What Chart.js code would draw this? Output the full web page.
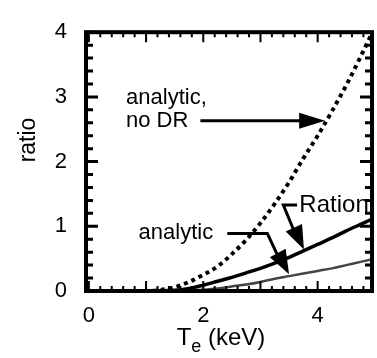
<!DOCTYPE html>
<html>
<head>
<meta charset="utf-8">
<script src="https://cdn.jsdelivr.net/npm/chart.js@4"></script>
<style>
  html, body { margin: 0; padding: 0; background: #fff; }
  #wrap { width: 377px; height: 358px; }
</style>
</head>
<body>
<div id="wrap"><canvas id="ratioChart" width="377" height="358"></canvas></div>
<script>
// Te grid (keV) and the three curves
const te = [0, 0.5, 1.0, 1.5, 1.75, 2.0, 2.25, 2.5, 2.75, 3.0, 3.25, 3.5, 3.75, 4.0, 4.25, 4.5, 4.75, 5.0];
const analyticNoDR = [0, 0, 0, 0.06, 0.14, 0.25, 0.38, 0.57, 0.79, 1.05, 1.35, 1.68, 2.05, 2.40, 2.78, 3.18, 3.62, 4.08];
const rationCurve = [0, 0, 0, 0.01, 0.04, 0.09, 0.15, 0.21, 0.28, 0.35, 0.43, 0.52, 0.62, 0.72, 0.82, 0.93, 1.03, 1.13];
const analyticCurve = [0, 0, 0, 0, 0.005, 0.02, 0.04, 0.07, 0.10, 0.14, 0.19, 0.23, 0.27, 0.31, 0.35, 0.40, 0.45, 0.50];
const xTicks = [0, 2, 4];
const yTicks = [0, 1, 2, 3, 4];

const FONT = '"Liberation Sans", Arial, Helvetica, sans-serif';

function pts(ys) {
    return te.map((x, i) => ({ x: x, y: ys[i] }));
}

// frame with inward tick marks, like the original plot box
const framePlugin = {
    id: 'frame',
    afterDatasetsDraw(chart) {
        const { ctx, chartArea: a, scales: { x, y } } = chart;
        ctx.save();
        ctx.strokeStyle = '#000';
        ctx.lineWidth = 2;
        ctx.beginPath();
        for (let v = 0; v <= 5.001; v += 0.2) {
            const px = x.getPixelForValue(v);
            if (px < a.left || px > a.right) continue;
            const major = Math.abs(v - Math.round(v)) < 0.01;
            const len = major ? 10 : 5;
            ctx.moveTo(px, a.bottom); ctx.lineTo(px, a.bottom - len);
            ctx.moveTo(px, a.top); ctx.lineTo(px, a.top + len);
        }
        ctx.stroke();
        ctx.lineWidth = 3;
        ctx.beginPath();
        for (let v = 0; v <= 4.001; v += 0.2) {
            const py = y.getPixelForValue(v);
            const major = Math.abs(v - Math.round(v)) < 0.01;
            const len = major ? 12 : 7;
            ctx.moveTo(a.left, py); ctx.lineTo(a.left + len, py);
            ctx.moveTo(a.right, py); ctx.lineTo(a.right - len, py);
        }
        ctx.stroke();
        ctx.lineWidth = 4;
        ctx.strokeRect(a.left, a.top, a.right - a.left, a.bottom - a.top);
        ctx.restore();
    }
};

function arrowHead(ctx, fx, fy, tx, ty, len, half) {
    const ang = Math.atan2(ty - fy, tx - fx);
    const bx = tx - len * Math.cos(ang), by = ty - len * Math.sin(ang);
    ctx.beginPath();
    ctx.moveTo(tx, ty);
    ctx.lineTo(bx + half * Math.sin(ang), by - half * Math.cos(ang));
    ctx.lineTo(bx - half * Math.sin(ang), by + half * Math.cos(ang));
    ctx.closePath();
    ctx.fill();
}

// labels + arrows inside the plot, placed in data units
const notesPlugin = {
    id: 'notes',
    afterDatasetsDraw(chart) {
        const { ctx, chartArea: a, scales: { x, y } } = chart;
        const X = v => x.getPixelForValue(v);
        const Y = v => y.getPixelForValue(v);
        ctx.save();
        ctx.beginPath();
        ctx.rect(a.left, a.top, a.right - a.left, a.bottom - a.top);
        ctx.clip();
        ctx.fillStyle = '#000';
        ctx.strokeStyle = '#000';
        ctx.font = '22px ' + FONT;
        ctx.textBaseline = 'middle';
        ctx.textAlign = 'left';

        ctx.fillText('analytic,', X(0.65), Y(2.98));
        ctx.fillText('no DR', X(0.65), Y(2.63));
        ctx.fillText('analytic', X(0.87), Y(0.89));
        ctx.font = '24px ' + FONT;
        ctx.fillText('Ration', X(3.68), Y(1.33));

        ctx.lineWidth = 3;
        // no DR arrow
        ctx.beginPath();
        ctx.moveTo(X(1.95), Y(2.63)); ctx.lineTo(X(3.8), Y(2.63));
        ctx.stroke();
        arrowHead(ctx, X(1.95), Y(2.63), X(4.13), Y(2.63), 26, 8);

        // Ration arrow
        ctx.beginPath();
        ctx.moveTo(X(3.64), Y(1.33)); ctx.lineTo(X(3.4), Y(1.33)); ctx.lineTo(X(3.6), Y(0.9));
        ctx.stroke();
        arrowHead(ctx, X(3.4), Y(1.33), X(3.76), Y(0.64), 24, 9);

        // analytic arrow
        ctx.beginPath();
        ctx.moveTo(X(2.42), Y(0.89)); ctx.lineTo(X(3.12), Y(0.89)); ctx.lineTo(X(3.3), Y(0.55));
        ctx.stroke();
        arrowHead(ctx, X(3.12), Y(0.89), X(3.5), Y(0.26), 24, 9);
        ctx.restore();

        // axis titles
        ctx.save();
        ctx.fillStyle = '#000';
        ctx.textBaseline = 'alphabetic';
        const t1 = 'T', t3 = ' (keV)';
        ctx.font = '24px ' + FONT;
        const w1 = ctx.measureText(t1).width, w3 = ctx.measureText(t3).width;
        ctx.font = '18px ' + FONT;
        const w2 = ctx.measureText('e').width;
        const sx = 221 - (w1 + w2 + w3) / 2;
        const base = 345;
        ctx.font = '24px ' + FONT;
        ctx.fillText(t1, sx, base);
        ctx.font = '18px ' + FONT;
        ctx.fillText('e', sx + w1, base + 7);
        ctx.font = '24px ' + FONT;
        ctx.fillText(t3, sx + w1 + w2, base);

        ctx.font = '23px ' + FONT;
        ctx.translate(29, 140);
        ctx.rotate(-Math.PI / 2);
        ctx.textAlign = 'center';
        ctx.textBaseline = 'middle';
        ctx.fillText('ratio', 0, 0);
        ctx.restore();
    }
};

const ctx = document.getElementById('ratioChart').getContext('2d');
new Chart(ctx, {
    type: 'line',
    data: {
        datasets: [
            {
                label: 'analytic, no DR',
                data: pts(analyticNoDR),
                borderColor: '#000',
                borderWidth: 4,
                borderDash: [4, 4],
                pointRadius: 0,
                cubicInterpolationMode: 'monotone'
            },
            {
                label: 'Ration',
                data: pts(rationCurve),
                borderColor: '#000',
                borderWidth: 3.5,
                pointRadius: 0,
                cubicInterpolationMode: 'monotone'
            },
            {
                label: 'analytic',
                data: pts(analyticCurve),
                borderColor: '#444',
                borderWidth: 2.5,
                pointRadius: 0,
                cubicInterpolationMode: 'monotone'
            }
        ]
    },
    options: {
        responsive: false,
        animation: false,
        devicePixelRatio: 1,
        layout: { padding: { top: 14, right: 5, left: 0, bottom: 0 } },
        plugins: {
            legend: { display: false },
            tooltip: { enabled: false }
        },
        scales: {
            x: {
                type: 'linear',
                min: -0.05,
                max: 4.95,
                grid: { display: false, drawTicks: false },
                border: { display: false },
                afterBuildTicks: s => { s.ticks = xTicks.map(v => ({ value: v })); },
                afterFit: s => { s.height = 67; },
                ticks: {
                    color: '#000',
                    padding: 12,
                    font: { family: FONT, size: 22 },
                    callback: v => String(v)
                }
            },
            y: {
                min: 0,
                max: 4,
                grid: { display: false, drawTicks: false },
                border: { display: false },
                afterBuildTicks: s => { s.ticks = yTicks.map(v => ({ value: v })); },
                afterFit: s => { s.width = 86; },
                ticks: {
                    color: '#000',
                    padding: 19,
                    font: { family: FONT, size: 22 },
                    callback: v => String(v)
                }
            }
        }
    },
    plugins: [framePlugin, notesPlugin]
});
</script>
</body>
</html>
